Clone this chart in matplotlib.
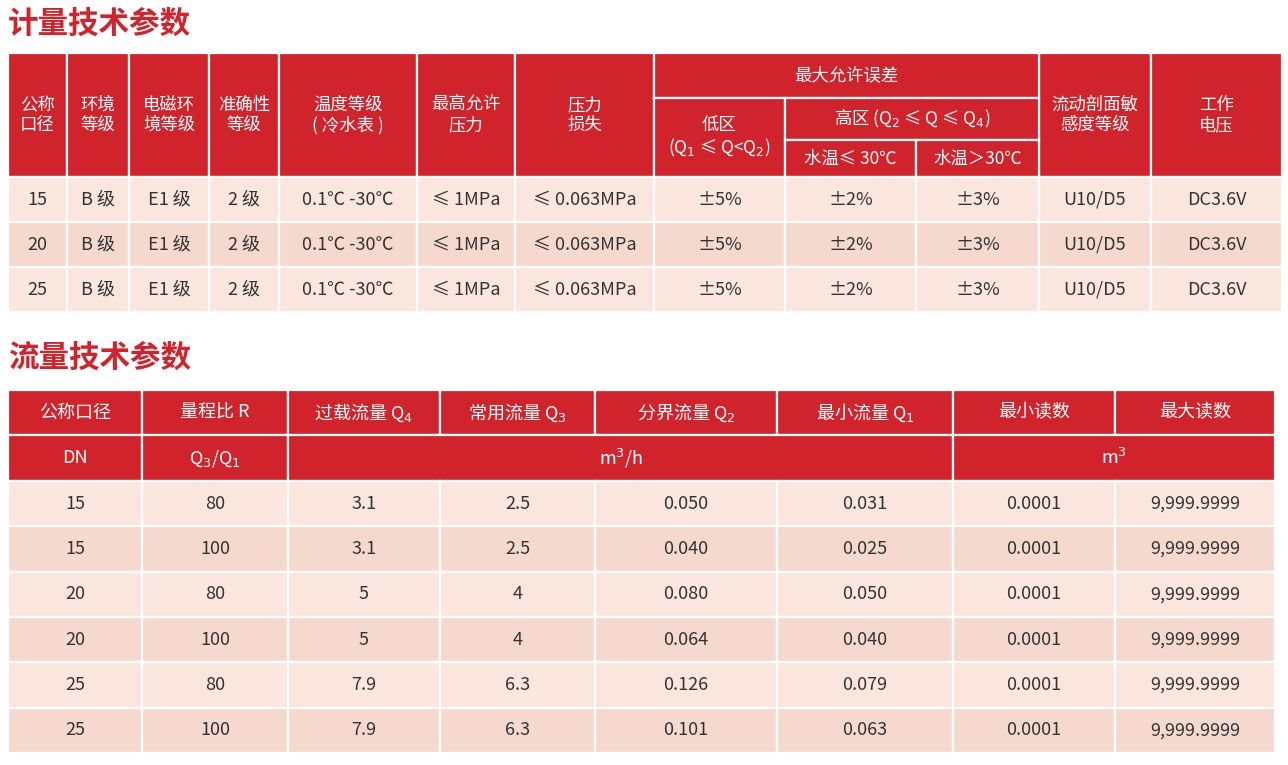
import matplotlib
matplotlib.use("Agg")
import matplotlib.pyplot as plt
from matplotlib.patches import Rectangle

plt.rcParams['font.family'] = ['Noto Sans CJK SC', 'DejaVu Sans']
plt.rcParams['mathtext.fontset'] = 'dejavusans'

RED = '#D0232B'
LIGHT = '#FBE6DD'
DARK = '#F5D9CE'
TXT = '#333333'

title1 = "计量技术参数"
title2 = "流量技术参数"

# Table 1 data
t1_dn = ["15", "20", "25"]
t1_env = ["B 级"] * 3
t1_emc = ["E1 级"] * 3
t1_acc = ["2 级"] * 3
t1_temp = ["0.1℃ -30℃"] * 3
t1_pmax = ["≤ 1MPa"] * 3
t1_ploss = ["≤ 0.063MPa"] * 3
t1_low = ["±5%"] * 3
t1_high_cold = ["±2%"] * 3
t1_high_warm = ["±3%"] * 3
t1_flow = ["U10/D5"] * 3
t1_volt = ["DC3.6V"] * 3

# Table 2 data
t2_dn = ["15", "15", "20", "20", "25", "25"]
t2_r = ["80", "100", "80", "100", "80", "100"]
t2_q4 = ["3.1", "3.1", "5", "5", "7.9", "7.9"]
t2_q3 = ["2.5", "2.5", "4", "4", "6.3", "6.3"]
t2_q2 = ["0.050", "0.040", "0.080", "0.064", "0.126", "0.101"]
t2_q1 = ["0.031", "0.025", "0.050", "0.040", "0.079", "0.063"]
t2_min = ["0.0001"] * 6
t2_max = ["9,999.9999"] * 6

fig = plt.figure(figsize=(12.88, 7.65), dpi=100)
ax = fig.add_axes([0, 0, 1, 1])
ax.set_xlim(0, 1288)
ax.set_ylim(765, 0)
ax.axis('off')

def cell(x0, x1, y0, y1, color, text="", tc=TXT, fs=13, ls=0.0):
    ax.add_patch(Rectangle((x0, y0), x1 - x0, y1 - y0, facecolor=color,
                           edgecolor='white', linewidth=1.6))
    if text:
        ax.text((x0 + x1) / 2, (y0 + y1) / 2, text, ha='center', va='center',
                color=tc, fontsize=fs, linespacing=1.15)

ax.text(8, 24, title1, color=RED, fontsize=22, fontweight='bold', va='center', ha='left')
ax.text(8, 358, title2, color=RED, fontsize=22, fontweight='bold', va='center', ha='left')

# Table 1
xs = [8, 67, 129, 209, 279, 417, 515, 654, 785, 916, 1039, 1151, 1282]
yh = [53, 98, 140, 177]
hdr_full = {0: "公称\n口径", 1: "环境\n等级", 2: "电磁环\n境等级", 3: "准确性\n等级",
            4: "温度等级\n( 冷水表 )", 5: "最高允许\n压力", 6: "压力\n损失",
            10: "流动剖面敏\n感度等级", 11: "工作\n电压"}
for i, t in hdr_full.items():
    cell(xs[i], xs[i + 1], yh[0], yh[3], RED, t, 'white', 12.5)
cell(xs[7], xs[10], yh[0], yh[1], RED, "最大允许误差", 'white', 12.5)
cell(xs[7], xs[8], yh[1], yh[3], RED, "低区\n(Q$_1$ ≤ Q<Q$_2$)", 'white', 12.5)
cell(xs[8], xs[10], yh[1], yh[2], RED, "高区 (Q$_2$ ≤ Q ≤ Q$_4$)", 'white', 12.5)
cell(xs[8], xs[9], yh[2], yh[3], RED, "水温≤ 30℃", 'white', 12.5)
cell(xs[9], xs[10], yh[2], yh[3], RED, "水温＞30℃", 'white', 12.5)

cols1 = [t1_dn, t1_env, t1_emc, t1_acc, t1_temp, t1_pmax, t1_ploss,
         t1_low, t1_high_cold, t1_high_warm, t1_flow, t1_volt]
ry = [177, 222, 267, 312]
for r in range(3):
    bg = DARK if r % 2 == 1 else LIGHT
    for c, col in enumerate(cols1):
        cell(xs[c], xs[c + 1], ry[r], ry[r + 1], bg, col[r], TXT, 13)

# Table 2
xs2 = [8, 142, 288, 440, 595, 777, 953, 1115, 1275]
h2 = ["公称口径", "量程比 R", "过载流量 Q$_4$", "常用流量 Q$_3$", "分界流量 Q$_2$",
      "最小流量 Q$_1$", "最小读数", "最大读数"]
y0, y1, y2 = 390, 435, 481
for i, t in enumerate(h2):
    cell(xs2[i], xs2[i + 1], y0, y1, RED, t, 'white', 13)
cell(xs2[0], xs2[1], y1, y2, RED, "DN", 'white', 13)
cell(xs2[1], xs2[2], y1, y2, RED, "Q$_3$/Q$_1$", 'white', 13)
cell(xs2[2], xs2[6], y1, y2, RED, "m$^3$/h", 'white', 13)
cell(xs2[6], xs2[8], y1, y2, RED, "m$^3$", 'white', 13)

cols2 = [t2_dn, t2_r, t2_q4, t2_q3, t2_q2, t2_q1, t2_min, t2_max]
rh = (753 - 481) / 6
for r in range(6):
    bg = DARK if r % 2 == 1 else LIGHT
    for c, col in enumerate(cols2):
        cell(xs2[c], xs2[c + 1], 481 + r * rh, 481 + (r + 1) * rh, bg, col[r], TXT, 13)

fig.savefig("out.png", dpi=100, facecolor='white')
